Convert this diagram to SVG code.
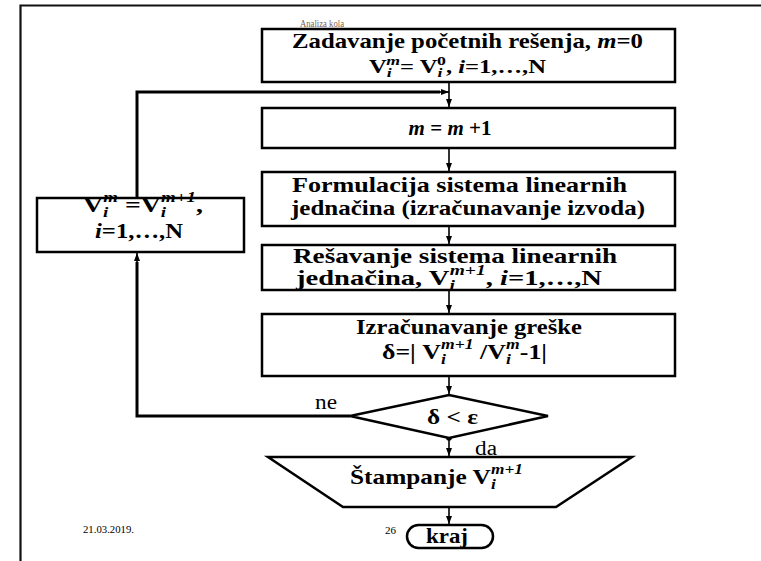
<svg xmlns="http://www.w3.org/2000/svg" width="761" height="561" viewBox="0 0 761 561" font-family="'Liberation Serif', 'Times New Roman', serif">
<defs>
<marker id="ah" markerWidth="8" markerHeight="8" viewBox="0 0 8 8" refX="8" refY="4" orient="auto" markerUnits="userSpaceOnUse">
<path d="M0,1 L8,4 L0,7 Z" fill="#000"/>
</marker>
</defs>
<style>
.box{fill:#fff;stroke:#000;stroke-width:2.5}
text{font-family:'Liberation Serif','Times New Roman',serif}
.t{font-weight:bold;fill:#000;text-anchor:middle}
.n{fill:#000}
.c{fill:none;stroke:#000;stroke-width:1.6}
.ct{fill:none;stroke:#000;stroke-width:3}
</style>
<rect width="761" height="561" fill="#fff"/>
<path d="M20.5 561 V5.5 H761" fill="none" stroke="#111" stroke-width="2.2"/>
<text x="300" y="27" class="n" font-size="11" textLength="44" lengthAdjust="spacingAndGlyphs" style="fill:#806050">Analiza kola</text>
<text x="83" y="533" class="n" font-size="11" textLength="51" lengthAdjust="spacingAndGlyphs">21.03.2019.</text>
<text x="385" y="534" class="n" font-size="11">26</text>

<g id="connectors">
<line class="c" x1="449" y1="82" x2="449" y2="107" marker-end="url(#ah)"/>
<path class="ct" d="M137 198 V92 H440"/>
<line class="c" x1="436" y1="92" x2="449" y2="92" marker-end="url(#ah)"/>
<line class="c" x1="449" y1="148" x2="449" y2="171" marker-end="url(#ah)"/>
<line class="c" x1="449" y1="226" x2="449" y2="244" marker-end="url(#ah)"/>
<line class="c" x1="449" y1="290" x2="449" y2="313" marker-end="url(#ah)"/>
<line class="c" x1="449" y1="376" x2="449" y2="394" marker-end="url(#ah)"/>
<path class="ct" d="M350 416 H137 V262"/>
<line class="c" x1="137" y1="266" x2="137" y2="253" marker-end="url(#ah)"/>
<circle cx="449" cy="438" r="2.8" fill="#000"/>
<line class="c" x1="449" y1="438" x2="449" y2="456" marker-end="url(#ah)"/>
<line class="c" x1="449" y1="507" x2="449" y2="524" marker-end="url(#ah)"/>
<text x="315" y="409" class="n" font-size="20" textLength="22" lengthAdjust="spacingAndGlyphs">ne</text>
<text x="475" y="455" class="n" font-size="20" textLength="22" lengthAdjust="spacingAndGlyphs">da</text>
</g>

<g id="start">
<rect class="box" x="262" y="29" width="413" height="53"/>
<text class="t" x="467.5" y="48" font-size="22" textLength="351" lengthAdjust="spacingAndGlyphs">Zadavanje početnih rešenja, <tspan font-style="italic">m</tspan>=0</text>
<text class="t" x="457.5" y="73" font-size="18" textLength="177" lengthAdjust="spacingAndGlyphs">V<tspan font-style="italic" font-size="13" dy="4">i</tspan><tspan font-style="italic" font-size="13" dx="-4" dy="-12">m</tspan><tspan dy="8">= V</tspan><tspan font-style="italic" font-size="13" dy="4">i</tspan><tspan font-size="13" dx="-4" dy="-12">0</tspan><tspan dy="8">, </tspan><tspan font-style="italic">i</tspan>=1,…,N</text>
</g>

<g id="increment">
<rect class="box" x="262" y="108" width="413" height="40"/>
<text class="t" x="450" y="135" font-size="21"><tspan font-style="italic">m</tspan> = <tspan font-style="italic">m</tspan> +1</text>
</g>

<g id="formulation">
<rect class="box" x="262" y="172" width="413" height="54"/>
<text class="t" x="459.5" y="192" font-size="22" textLength="335" lengthAdjust="spacingAndGlyphs">Formulacija sistema linearnih</text>
<text class="t" x="468" y="215" font-size="22" textLength="354" lengthAdjust="spacingAndGlyphs">jednačina (izračunavanje izvoda)</text>
</g>

<g id="solve">
<rect class="box" x="262" y="245" width="413" height="45"/>
<text class="t" x="455" y="263" font-size="22" textLength="324" lengthAdjust="spacingAndGlyphs">Rešavanje sistema linearnih</text>
<text class="t" x="449" y="285" font-size="22" textLength="306" lengthAdjust="spacingAndGlyphs">jednačina, V<tspan font-style="italic" font-size="15" dy="5">i</tspan><tspan font-style="italic" font-size="15" dx="-4" dy="-15">m+1</tspan><tspan dy="10">, </tspan><tspan font-style="italic">i</tspan>=1,…,N</text>
</g>

<g id="error">
<rect class="box" x="262" y="314" width="413" height="62"/>
<text class="t" x="469" y="334" font-size="22" textLength="226" lengthAdjust="spacingAndGlyphs">Izračunavanje greške</text>
<text class="t" x="464.5" y="359" font-size="22" textLength="165" lengthAdjust="spacingAndGlyphs">δ=| V<tspan font-style="italic" font-size="15" dy="5">i</tspan><tspan font-style="italic" font-size="15" dx="-4" dy="-15">m+1</tspan><tspan dy="10"> /V</tspan><tspan font-style="italic" font-size="15" dy="5">i</tspan><tspan font-style="italic" font-size="15" dx="-4" dy="-15">m</tspan><tspan dy="10">-1|</tspan></text>
</g>

<g id="decision">
<polygon class="box" points="449,395 548,416 449,438 350,416"/>
<text class="t" x="452.5" y="424" font-size="22" textLength="51" lengthAdjust="spacingAndGlyphs">δ &lt; ε</text>
</g>

<g id="update">
<rect class="box" x="37" y="198" width="207" height="54"/>
<text class="t" x="143" y="212" font-size="22" textLength="120" lengthAdjust="spacingAndGlyphs">V<tspan font-style="italic" font-size="15" dy="5">i</tspan><tspan font-style="italic" font-size="15" dx="-4" dy="-15">m</tspan><tspan dy="10"> =V</tspan><tspan font-style="italic" font-size="15" dy="5">i</tspan><tspan font-style="italic" font-size="15" dx="-4" dy="-15">m+1</tspan><tspan dy="10">,</tspan></text>
<text class="t" x="139" y="238" font-size="22" textLength="88" lengthAdjust="spacingAndGlyphs"><tspan font-style="italic">i</tspan>=1,…,N</text>
</g>

<g id="print">
<polygon class="box" points="268,457 632,457 556,507 343,507"/>
<text class="t" x="436.5" y="484" font-size="22" textLength="173" lengthAdjust="spacingAndGlyphs">Štampanje V<tspan font-style="italic" font-size="15" dy="5">i</tspan><tspan font-style="italic" font-size="15" dx="-4" dy="-15">m+1</tspan></text>
</g>

<g id="end">
<rect class="box" x="407" y="525" width="86" height="23" rx="11.5"/>
<text class="t" x="447" y="543" font-size="22" textLength="42" lengthAdjust="spacingAndGlyphs">kraj</text>
</g>
</svg>
